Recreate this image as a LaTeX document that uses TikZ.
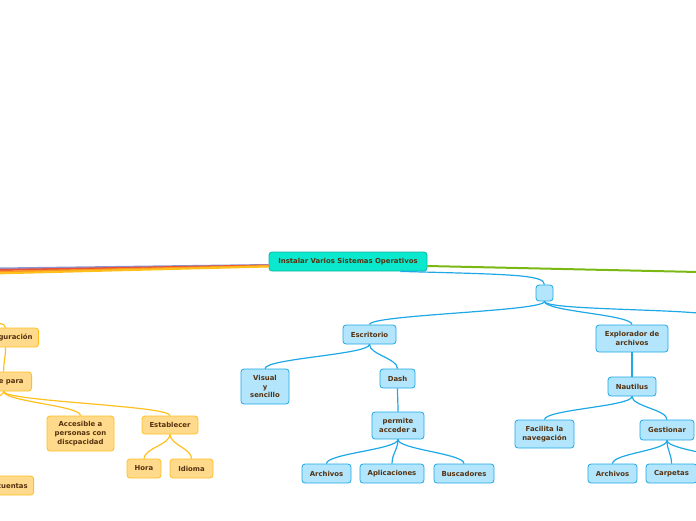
\documentclass[tikz,border=0pt]{standalone}
\usepackage{fontspec}
\setmainfont{DejaVu Sans}
\definecolor{rootfill}{RGB}{10,232,206}
\definecolor{rootline}{RGB}{20,180,160}
\definecolor{bluefill}{RGB}{179,229,252}
\definecolor{blueline}{RGB}{30,168,230}
\definecolor{yellowfill}{RGB}{255,217,140}
\definecolor{yellowline}{RGB}{255,192,30}
\definecolor{txtbrown}{RGB}{85,50,15}
\definecolor{lilac}{RGB}{140,150,210}
\definecolor{redline}{RGB}{232,80,58}
\definecolor{orangeline}{RGB}{250,150,30}
\definecolor{greenline}{RGB}{124,184,20}
\begin{document}
\begin{tikzpicture}[x=1pt, y=-1pt,
    font=\fontsize{6.9}{8.6}\selectfont\bfseries,
    box/.style={rounded corners=3pt, line width=0.8pt, text=txtbrown, align=center,
        inner xsep=3pt, inner ysep=0pt, minimum height=19pt},
    rootbox/.style={box, fill=rootfill, draw=rootline},
    bluebox/.style={box, fill=bluefill, draw=blueline},
    yellowbox/.style={box, fill=yellowfill, draw=yellowline},
    conn/.style={line width=1.2pt, to path={.. controls +(0,10) and +(0,-10) .. (\tikztotarget)}},
    blueconn/.style={conn, draw=blueline},
    yellowconn/.style={conn, draw=yellowline},
    branch/.style={line width=2pt}]

    \useasboundingbox (0,0) rectangle (696,520);

    % Root
    \node[rootbox, minimum width=158pt] (root) at (348,261.5) {Instalar Varios Sistemas Operativos};

    % Blue branch
    \node[bluebox, minimum width=17pt, minimum height=16pt] (hub) at (544.5,293) {};
    \node[bluebox, minimum width=53pt] (escr) at (369.5,334.5) {Escritorio};
    \node[bluebox, minimum width=72pt, minimum height=27pt] (expl) at (632,338.5) {Explorador de\\archivos};
    \node[bluebox, minimum width=48pt, minimum height=35pt] (visual) at (265,386.5) {Visual\\y\\sencillo};
    \node[bluebox, minimum width=35pt] (dash) at (397.5,378.5) {Dash};
    \node[bluebox, minimum width=52pt, minimum height=27pt] (permite) at (398,425.5) {permite\\acceder a};
    \node[bluebox, minimum width=49pt] (archA) at (326.5,473.5) {Archivos};
    \node[bluebox, minimum width=64pt] (aplic) at (392,473.5) {Aplicaciones};
    \node[bluebox, minimum width=60pt] (busc) at (464,473.5) {Buscadores};
    \node[bluebox, minimum width=48pt] (naut) at (632,386.5) {Nautilus};
    \node[bluebox, minimum width=59pt, minimum height=28pt] (facil) at (544.5,434) {Facilita la\\navegación};
    \node[bluebox, minimum width=54pt, minimum height=20pt] (gest) at (667,430) {Gestionar};
    \node[bluebox, minimum width=49pt] (archB) at (612.5,473.5) {Archivos};
    \node[bluebox, minimum width=51pt] (carp) at (671.5,473.5) {Carpetas};

    % Yellow branch
    \node[yellowbox, anchor=east, minimum width=66pt] (config) at (39,337.5) {Configuración};
    \node[yellowbox, anchor=east, minimum width=56pt] (sirve) at (32,381.5) {Sirve para};
    \node[yellowbox, minimum width=67pt, minimum height=35pt] (acces) at (80.5,433.5) {Accesible a\\personas con\\discpacidad};
    \node[yellowbox, minimum width=56pt, minimum height=18pt] (estab) at (170,425) {Establecer};
    \node[yellowbox, minimum width=34pt] (hora) at (144,468.5) {Hora};
    \node[yellowbox, minimum width=43pt] (idioma) at (191.5,468.5) {Idioma};
    \node[yellowbox, anchor=east, minimum width=66pt] (cuentas) at (34,485.5) {Crear cuentas};

    % Off-page ends
    \coordinate (offLilac) at (-2,268.5);
    \coordinate (offRed) at (-2,270);
    \coordinate (offOrange) at (-2,271.8);
    \coordinate (offYellow) at (-2,273.4);
    \coordinate (offGreen) at (698,272);
    \coordinate (offHub) at (720,318);
    \coordinate (offGest) at (740,466);
    \coordinate (offConfig) at (-40,318);
    \coordinate (offSirve) at (-60,420);

    % Main branches
    \draw[branch, lilac] ([yshift=-3.5pt]root.west) -- (offLilac);
    \draw[branch, redline] ([yshift=-4pt]root.west) -- (offRed);
    \draw[branch, orangeline] ([yshift=-4.5pt]root.west) -- (offOrange);
    \draw[branch, yellowline] ([yshift=-5pt]root.west) -- (offYellow);
    \draw[branch, greenline] ([yshift=-4.5pt]root.east) -- (offGreen);
    \draw[line width=1.2pt, blueline] ([xshift=-27pt]root.south east)
        .. controls +(110,3) and +(0,-10) .. (hub.north);

    % Blue connectors
    \draw[blueconn] (hub.south) to (escr.north);
    \draw[blueconn] (hub.south) to (expl.north);
    \draw[blueconn] (hub.south) to (offHub);
    \draw[blueconn] (escr.south) to (visual.north);
    \draw[blueconn] (escr.south) to (dash.north);
    \draw[blueconn] (dash.south) to (permite.north);
    \draw[blueconn] (permite.south) to (archA.north);
    \draw[blueconn] (permite.south) to (aplic.north);
    \draw[blueconn] (permite.south) to (busc.north);
    \draw[blueconn] (expl.south) to (naut.north);
    \draw[blueconn] (naut.south) to (facil.north);
    \draw[blueconn] (naut.south) to (gest.north);
    \draw[blueconn] (gest.south) to (archB.north);
    \draw[blueconn] (gest.south) to (carp.north);
    \draw[blueconn] (gest.south) to (offGest);

    % Yellow connectors
    \draw[yellowconn] (offConfig) to (config.north);
    \draw[yellowconn] (config.south) to (sirve.north);
    \draw[yellowconn] (sirve.south) to (offSirve);
    \draw[yellowconn] (sirve.south) to (acces.north);
    \draw[yellowconn] (sirve.south) to (estab.north);
    \draw[yellowconn] (estab.south) to (hora.north);
    \draw[yellowconn] (estab.south) to (idioma.north);

\end{tikzpicture}
\end{document}
